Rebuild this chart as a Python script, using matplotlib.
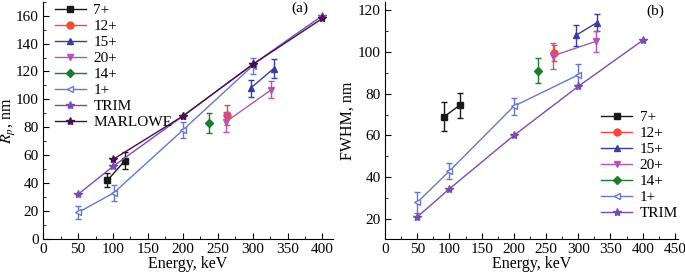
import matplotlib
matplotlib.use("Agg")
import matplotlib.pyplot as plt
from matplotlib.ticker import MultipleLocator

plt.rcParams['font.family'] = ['Liberation Serif', 'DejaVu Serif']
plt.rcParams['font.size'] = 11
plt.rcParams['mathtext.fontset'] = 'stix'

# ==========================================
# DATA (a) Rp, nm
# ==========================================

e7 = [92, 117]
rp7 = [42, 56]
rp7_err = [5, 6]

e12 = [264]
rp12 = [89]
rp12_err = [7]

e15 = [297, 330]
rp15 = [108, 122]
rp15_err = [6, 7]

e20 = [262, 327]
rp20 = [84, 107]
rp20_err = [7, 6]

e14 = [238]
rp14 = [83]
rp14_err = [7]

e1 = [50, 101, 200, 300]
rp1 = [19, 33, 78, 124]
rp1_err = [5, 6, 6, 6]

e_trim = [50, 100, 200, 300, 400]
rp_trim = [32, 52, 88, 125, 160]

e_marl = [100, 200, 300, 400]
rp_marl = [57, 88, 125, 158]

# ==========================================
# DATA (b) FWHM, nm
# ==========================================

fe7 = [92, 116]
fw7 = [69, 74.5]
fw7_err = [7, 6]

fe12 = [263]
fw12 = [99.5]
fw12_err = [4]

fe15 = [297, 329]
fw15 = [108, 114]
fw15_err = [5, 4]

fe20 = [260, 327]
fw20 = [98, 105]
fw20_err = [6, 5]

fe14 = [238]
fw14 = [91]
fw14_err = [6]

fe1 = [50, 100, 200, 300]
fw1 = [28, 43, 74, 89]
fw1_err = [5, 4, 4, 5]

fe_trim = [50, 100, 200, 300, 400]
fw_trim = [21, 34.5, 60, 83.5, 105.5]

# ==========================================
# STYLES
# ==========================================

C7 = '#1a1a1a'
C12 = '#f04a3c'
C15 = '#3c3c9c'
C20 = '#b455b4'
C14 = '#1e7a2e'
C1 = '#6878c8'
CTRIM = '#7a4cb0'
CMARL = '#4a0e4e'


def draw(ax, series):
    for x, y, err, color, marker, label, open_m in series:
        mfc = 'white' if open_m else color
        ms = 6 if marker == '*' else 5
        if marker == 'D':
            ms = 4
        if err is not None:
            ax.errorbar(x, y, yerr=err, color=color, fmt='none',
                        elinewidth=1, capsize=2, capthick=1)
        ax.plot(x, y, color=color, marker=marker, ms=ms, mfc=mfc,
                mec=color, lw=1, label=label)


def style(ax):
    ax.spines['top'].set_visible(False)
    ax.spines['right'].set_visible(False)
    ax.tick_params(direction='in', which='both', top=False, right=False,
                   labelsize=11)
    ax.tick_params(which='major', length=4, pad=3)
    ax.tick_params(which='minor', length=2)
    ax.xaxis.set_major_locator(MultipleLocator(50))
    ax.xaxis.set_minor_locator(MultipleLocator(25))
    ax.yaxis.set_major_locator(MultipleLocator(20))
    ax.yaxis.set_minor_locator(MultipleLocator(10))
    ax.set_xlabel("Energy, keV", labelpad=0, fontsize=11.5)


fig = plt.figure(figsize=(6.85, 2.76), dpi=100)

# ==========================================
# PANEL (a)
# ==========================================

ax1 = fig.add_axes([0.063, 0.134, 0.423, 0.86])
draw(ax1, [
    (e7, rp7, rp7_err, C7, 's', '7+', False),
    (e12, rp12, rp12_err, C12, 'o', '12+', False),
    (e15, rp15, rp15_err, C15, '^', '15+', False),
    (e20, rp20, rp20_err, C20, 'v', '20+', False),
    (e14, rp14, rp14_err, C14, 'D', '14+', False),
    (e1, rp1, rp1_err, C1, '<', '1+', True),
    (e_trim, rp_trim, None, CTRIM, '*', 'TRIM', False),
    (e_marl, rp_marl, None, CMARL, '*', 'MARLOWE', False),
])
style(ax1)
ax1.set_xlim(0, 415)
ax1.set_ylim(0, 170)
ax1.set_ylabel(r"$R_p$, nm", fontsize=11.5)
ax1.yaxis.set_label_coords(-0.088, 0.5)
ax1.text(367, 165, "(a)", ha='center', va='center', fontsize=11)
ax1.legend(loc='upper left', bbox_to_anchor=(0.01, 1.03), frameon=False,
           handlelength=2.0, handletextpad=0.5, labelspacing=0.15,
           borderaxespad=0.2, fontsize=11)

# ==========================================
# PANEL (b)
# ==========================================

ax2 = fig.add_axes([0.562, 0.134, 0.428, 0.86])
draw(ax2, [
    (fe7, fw7, fw7_err, C7, 's', '7+', False),
    (fe12, fw12, fw12_err, C12, 'o', '12+', False),
    (fe15, fw15, fw15_err, C15, '^', '15+', False),
    (fe20, fw20, fw20_err, C20, 'v', '20+', False),
    (fe14, fw14, fw14_err, C14, 'D', '14+', False),
    (fe1, fw1, fw1_err, C1, '<', '1+', True),
    (fe_trim, fw_trim, None, CTRIM, '*', 'TRIM', False),
])
style(ax2)
ax2.set_xlim(0, 455)
ax2.set_ylim(10.5, 124)
ax2.set_ylabel("FWHM, nm", fontsize=11.5)
ax2.yaxis.set_label_coords(-0.1, 0.5)
ax2.text(419, 119.5, "(b)", ha='center', va='center', fontsize=11)
ax2.legend(loc='lower right', bbox_to_anchor=(1.03, 0.04), frameon=False,
           handlelength=2.0, handletextpad=0.5, labelspacing=0.15,
           borderaxespad=0.2, fontsize=11)

fig.savefig("out.png", dpi=100)
